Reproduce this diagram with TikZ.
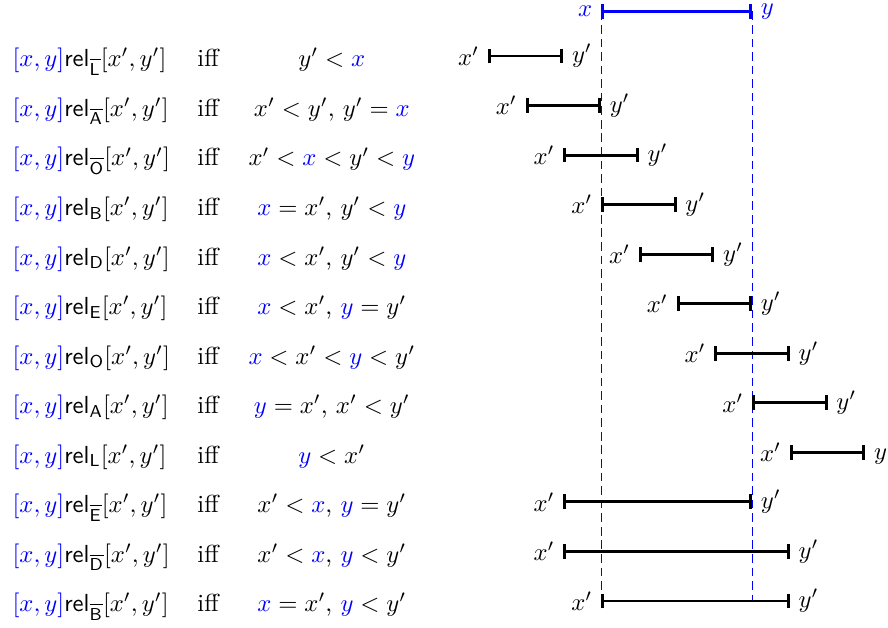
\documentclass[tikz,border=0pt]{standalone}
\usetikzlibrary{arrows.meta}
\newcommand{\cx}{{\color{blue}x}}
\newcommand{\cy}{{\color{blue}y}}
\newcommand{\rl}[1]{\mathsf{rel}_{#1}}
\tikzset{
  seg/.style={line width=1.2pt,{Bar[width=6pt]}-{Bar[width=6pt]}},
  guide/.style={blue,line width=.4pt,dash pattern=on 3.5pt off 2pt},
}
\begin{document}
\begin{tikzpicture}[x=.538cm,y=.706cm]
    \useasboundingbox (-15.92,1.13) rectangle (7.60,-11.54);
    % reference interval begin
    \coordinate (x0) at (0,.9);
    \coordinate (y0) at (4,.9);
    \coordinate (x1) at (0,-11);
    \coordinate (y1) at (4,-11);
    \draw[guide] (x0) -- (x1);
    \draw[guide] (y0) -- (y1);
    \draw[seg,blue] (x0) -- (y0);
    \node[blue,left] (lx) at (x0) {$x$};
    \node[blue,right] (ly) at (y0) {$y$};
    % reference interval end
    % rows begin
    \foreach \i/\s/\c/\a/\b in {
        1/{\overline{\mathsf{L}}}/{$y'<\cx$}/-3/-1,
        2/{\overline{\mathsf{A}}}/{$x'<y'$, $y'=\cx$}/-2/0,
        3/{\overline{\mathsf{O}}}/{$x'<\cx<y'<\cy$}/-1/1,
        4/{\mathsf{B}}/{$\cx=x'$, $y'<\cy$}/0/2,
        5/{\mathsf{D}}/{$\cx<x'$, $y'<\cy$}/1/3,
        6/{\mathsf{E}}/{$\cx<x'$, $\cy=y'$}/2/4,
        7/{\mathsf{O}}/{$\cx<x'<\cy<y'$}/3/5,
        8/{\mathsf{A}}/{$\cy=x'$, $x'<y'$}/4/6,
        9/{\mathsf{L}}/{$\cy<x'$}/5/7,
        10/{\overline{\mathsf{E}}}/{$x'<\cx$, $\cy=y'$}/-1/4,
        11/{\overline{\mathsf{D}}}/{$x'<\cx$, $\cy<y'$}/-1/5,
        12/{\overline{\mathsf{B}}}/{$\cx=x'$, $\cy<y'$}/0/5}{
        \node[anchor=base west,inner sep=0pt] (rel\i) at (-15.6,.78-\i) {\textcolor{blue}{$[x,y]$}$\rl{\s}[x',y']$};
        \node[anchor=base] (iff\i) at (-10.41,.78-\i) {iff};
        \node[anchor=base] (cond\i) at (-7.13,.78-\i) {\c};
        \coordinate (a\i) at (\a,1-\i);
        \coordinate (b\i) at (\b,1-\i);
        \draw[seg] (a\i) -- (b\i);
        \node[left] (la\i) at (a\i) {$x'$};
        \node[right] (lb\i) at (b\i) {$y'$};
    }
    % rows end
\end{tikzpicture}
\end{document}
